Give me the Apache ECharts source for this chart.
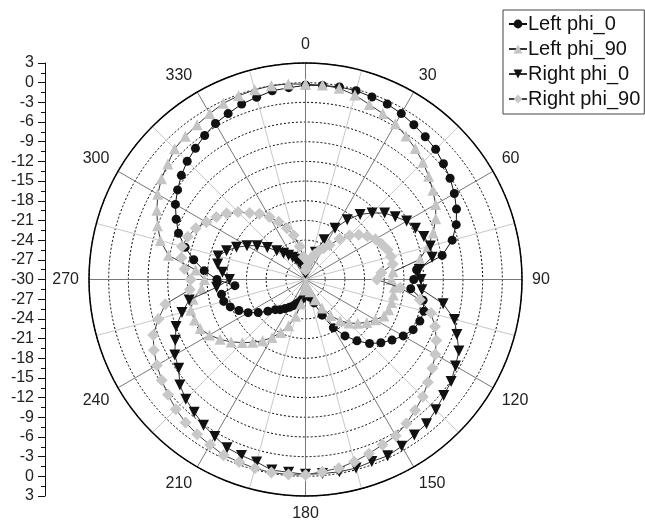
<!DOCTYPE html>
<html>
<head>
<meta charset="utf-8">
<script src="https://cdn.jsdelivr.net/npm/echarts@6/dist/echarts.min.js"></script>
<style>
html,body{margin:0;padding:0;background:#fff;}
#chart{width:645px;height:525px;}
</style>
</head>
<body>
<div id="chart"></div>
<script>
// Angles (degrees, clockwise from top)
var angles = [0,5,10,15,20,25,30,35,40,45,50,55,60,65,70,75,80,85,90,95,100,105,110,115,120,125,130,135,140,145,150,155,160,165,170,175,180,185,190,195,200,205,210,215,220,225,230,235,240,245,250,255,260,265,270,275,280,285,290,295,300,305,310,315,320,325,330,335,340,345,350,355];

var leftPhi0 = [-0.4,-0.3,-0.2,-0.2,-0.4,-0.5,-0.8,-1.2,-1.6,-1.95,-2.55,-3.1,-3.8,-4.6,-5.55,-6.85,-8.85,-13.0,-13.5,-13.9,-11.8,-11.3,-11.45,-11.9,-12.8,-13.9,-15.0,-16.2,-17.8,-19.5,-21.5,-24.0,-26.2,-27.2,-27.8,-28.0,-28.0,-27.6,-27.0,-26.5,-26.1,-25.6,-25.1,-24.6,-24.0,-23.5,-22.5,-21.2,-19.9,-18.8,-17.8,-17.1,-17.0,-19.2,-16.5,-14.5,-12.7,-11.0,-9.4,-8.25,-7.1,-6.2,-5.3,-4.5,-3.9,-3.2,-2.55,-2.1,-1.55,-1.25,-0.8,-0.65];

var leftPhi90 = [-0.25,-0.25,-0.4,-0.9,-1.6,-2.1,-2.6,-3.3,-3.95,-4.7,-5.5,-6.3,-7.1,-8.1,-9.3,-10.7,-12.3,-16.6,-16.9,-16.4,-16.4,-16.4,-16.5,-16.8,-17.7,-18.6,-19.6,-20.6,-21.8,-23.3,-25.0,-26.6,-28.0,-28.6,-29.0,-29.2,-29.2,-28.4,-26.2,-24.2,-22.5,-21.1,-19.8,-18.6,-17.5,-16.4,-15.2,-14.1,-13.1,-12.3,-12.0,-11.9,-12.6,-14.1,-14.6,-13.2,-8.8,-7.1,-6.0,-5.0,-4.0,-3.2,-2.6,-1.8,-1.5,-1.2,-0.8,-0.37,-0.2,-0.07,0.0,-0.07];

var rightPhi0 = [-29.0,-28.8,-28.3,-27.5,-25.6,-23.3,-21.0,-18.9,-17.05,-15.65,-14.25,-13.3,-12.2,-11.5,-10.8,-10.3,-10.4,-12.6,-12.4,-12.2,-8.7,-6.5,-5.45,-4.2,-3.6,-2.9,-2.5,-1.9,-1.3,-1.07,-0.65,-0.35,-0.46,-0.24,-0.24,-0.3,-0.3,-0.5,-0.5,-1.2,-1.45,-1.7,-2.35,-2.9,-3.6,-4.2,-5.0,-6.4,-7.0,-8.1,-9.0,-10.5,-12.0,-16.4,-18.4,-17.3,-16.4,-16.2,-17.2,-18.4,-19.7,-21.0,-22.4,-23.8,-24.8,-25.5,-26.1,-26.6,-27.2,-27.8,-28.5,-28.8];

var rightPhi90 = [-28.5,-28.0,-27.3,-26.6,-25.9,-25.2,-24.5,-23.6,-21.9,-20.5,-19.4,-18.5,-17.7,-17.2,-16.7,-16.5,-16.5,-18.4,-19.1,-15.5,-12.3,-10.2,-9.0,-8.0,-7.15,-6.4,-5.65,-4.7,-4.0,-3.2,-2.5,-2.2,-1.75,-1.25,-0.8,-0.6,-0.2,-0.15,-0.12,-0.2,-0.4,-0.45,-0.9,-1.2,-1.55,-2.05,-2.65,-3.25,-3.85,-4.5,-5.3,-6.8,-8.3,-12.3,-12.5,-11.5,-10.8,-10.5,-10.9,-11.55,-12.55,-13.4,-14.3,-15.45,-16.75,-17.75,-19.0,-20.3,-21.7,-23.0,-24.9,-26.5];

var seriesNames = ['Left phi_0','Left phi_90','Right phi_0','Right phi_90'];
var radiusTicks = [-30,-27,-24,-21,-18,-15,-12,-9,-6,-3,0,3];
var angleLabelStep = 30;

function toPolar(vals){
  var d = angles.map(function(a,i){ return [vals[i], a]; });
  d.push([vals[0], 360]);
  return d;
}

var FONT = 'Liberation Sans, Arial, sans-serif';
var chart = echarts.init(document.getElementById('chart'), null, {renderer:'canvas'});

var styles = [
  {symbol:'circle', size:9, color:'#111', line:'#111', rotate:0},
  {symbol:'triangle', size:11, color:'#c4c4c4', line:'#333', rotate:0},
  {symbol:'triangle', size:11, color:'#111', line:'#333', rotate:180},
  {symbol:'diamond', size:12, color:'#c8c8c8', line:'#444', rotate:0}
];
var dataSets = [leftPhi0, leftPhi90, rightPhi0, rightPhi90];

var series = dataSets.map(function(vals, k){
  var s = styles[k];
  return {
    name: seriesNames[k],
    type: 'line',
    coordinateSystem: 'polar',
    polarIndex: 0,
    data: toPolar(vals),
    symbol: s.symbol,
    symbolSize: s.size,
    symbolRotate: s.rotate,
    showAllSymbol: true,
    itemStyle: {color: s.color, borderWidth: 0},
    lineStyle: {color: s.line, width: 1},
    z: 3 + k
  };
});

chart.setOption({
  animation: false,
  backgroundColor: '#fff',
  textStyle: {fontFamily: FONT},
  legend: {
    orient: 'vertical',
    left: 503,
    top: 10,
    padding: [4, 4, 5, 5],
    itemGap: 5,
    itemWidth: 18,
    itemHeight: 11,
    borderColor: '#444',
    borderWidth: 1,
    textStyle: {fontSize: 20, color: '#111', fontFamily: FONT, padding: [0,0,0,-4]},
    data: seriesNames
  },
  polar: {center: [305.5, 279.5], radius: 216.5},
  angleAxis: {
    type: 'value',
    min: 0, max: 360, interval: 15,
    startAngle: 90,
    clockwise: true,
    axisLine: {show: true, lineStyle: {color: '#000', width: 1.5}},
    axisTick: {show: false},
    axisLabel: {
      show: true, margin: 10, fontSize: 16, color: '#222', fontFamily: FONT,
      formatter: function(v){ return (v % angleLabelStep === 0 && v < 360) ? String(v) : ''; }
    },
    splitLine: {show: true, lineStyle: {color: ['#777', '#c8c8c8'], width: 1}}
  },
  radiusAxis: {
    type: 'value',
    min: radiusTicks[0], max: radiusTicks[radiusTicks.length-1], interval: 3,
    axisLine: {show: false},
    axisTick: {show: false},
    axisLabel: {show: false},
    splitLine: {show: true, lineStyle: {color: '#000', width: 1, type: [2, 2]}}
  },
  grid: {left: 45, top: 63, height: 433, width: 1},
  xAxis: {type: 'value', show: false, min: 0, max: 1},
  yAxis: {
    type: 'value',
    position: 'left',
    min: -33, max: 33, interval: 3,
    axisLine: {show: true, lineStyle: {color: '#111', width: 1}},
    axisTick: {show: true, length: 7, lineStyle: {color: '#111'}},
    minorTick: {show: true, splitNumber: 2, length: 4, lineStyle: {color: '#111'}},
    splitLine: {show: false},
    axisLabel: {
      margin: 11, fontSize: 16, color: '#222', fontFamily: FONT,
      formatter: function(v){ return String(Math.abs(v) + radiusTicks[0]); }
    }
  },
  series: series
});
</script>
</body>
</html>
